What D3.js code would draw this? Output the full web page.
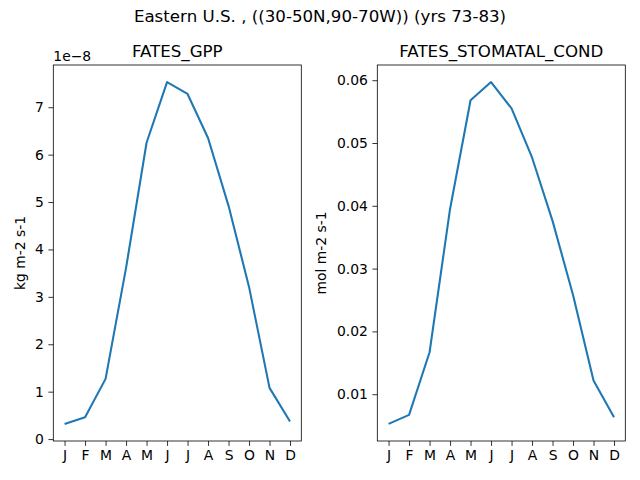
<!DOCTYPE html>
<html>
<head>
<meta charset="utf-8">
<script src="https://cdn.jsdelivr.net/npm/d3@7"></script>
<style>
body { margin: 0; background: #fff; }
svg text { font-family: "DejaVu Sans", sans-serif; fill: #000; }
</style>
</head>
<body>
<div id="chart"></div>
<script>
const width = 640, height = 480;

const months = ["J", "F", "M", "A", "M", "J", "J", "A", "S", "O", "N", "D"];
const gpp = [0.32, 0.46, 1.27, 3.61, 6.25, 7.53, 7.28, 6.35, 4.92, 3.21, 1.08, 0.37]; // x 1e-8
const stomatal = [0.00527, 0.00671, 0.01668, 0.0395, 0.0568, 0.0597, 0.0555, 0.0477, 0.0376, 0.0258, 0.0122, 0.00634];
const gppTicks = [0, 1, 2, 3, 4, 5, 6, 7];
const condTicks = [0.01, 0.02, 0.03, 0.04, 0.05, 0.06];

const svg = d3.select("#chart").append("svg")
    .attr("width", width).attr("height", height);

svg.append("text")
    .attr("x", 320).attr("y", 22)
    .attr("text-anchor", "middle")
    .style("font-size", "16.67px")
    .text("Eastern U.S. , ((30-50N,90-70W)) (yrs 73-83)");

function panel(opts) {
    const { left, right, top, bottom, values, ticks, fmt, title, ylabel, labelX, offsetText } = opts;

    const x = d3.scaleLinear().domain([-0.55, 11.55]).range([left, right]);
    const lo = d3.min(values), hi = d3.max(values), pad = (hi - lo) * 0.05;
    const y = d3.scaleLinear().domain([lo - pad, hi + pad]).range([bottom, top]);

    const g = svg.append("g");

    const xAxis = g.append("g")
        .attr("transform", `translate(0,${bottom})`)
        .call(d3.axisBottom(x).tickValues(d3.range(12)).tickFormat(i => months[i])
            .tickSize(4.9).tickPadding(4.5));
    const yAxis = g.append("g")
        .attr("transform", `translate(${left},0)`)
        .call(d3.axisLeft(y).tickValues(ticks).tickFormat(fmt).tickSize(4.9).tickPadding(4.5));

    [xAxis, yAxis].forEach(a => {
        a.select(".domain").remove();
        a.selectAll("line").attr("stroke", "#000").attr("stroke-width", 0.8);
        a.selectAll("text").style("font-size", "13.9px").attr("fill", "#000")
            .style("font-family", "DejaVu Sans, sans-serif");
    });

    g.append("path")
        .datum(values)
        .attr("fill", "none")
        .attr("stroke", "#1f77b4")
        .attr("stroke-width", 2.08)
        .attr("stroke-linejoin", "round")
        .attr("d", d3.line().x((d, i) => x(i)).y(d => y(d)));

    g.append("rect")
        .attr("x", left).attr("y", top)
        .attr("width", right - left).attr("height", bottom - top)
        .attr("fill", "none").attr("stroke", "#000").attr("stroke-width", 0.8);

    g.append("text")
        .attr("x", (left + right) / 2).attr("y", top - 8)
        .attr("text-anchor", "middle")
        .style("font-size", "16.67px")
        .text(title);

    g.append("text")
        .attr("transform", `translate(${labelX},${(top + bottom) / 2}) rotate(-90)`)
        .attr("text-anchor", "middle")
        .style("font-size", "13.9px")
        .text(ylabel);

    if (offsetText) {
        g.append("text")
            .attr("x", left).attr("y", top - 4)
            .style("font-size", "13.9px")
            .text(offsetText);
    }
}

panel({
    left: 53.3, right: 301.3, top: 65, bottom: 441,
    values: gpp, ticks: gppTicks, fmt: d3.format("d"),
    title: "FATES_GPP", ylabel: "kg m-2 s-1", labelX: 25, offsetText: "1e\u22128"
});

panel({
    left: 377.3, right: 625.3, top: 65, bottom: 441,
    values: stomatal, ticks: condTicks, fmt: d3.format(".2f"),
    title: "FATES_STOMATAL_COND", ylabel: "mol m-2 s-1", labelX: 326
});
</script>
</body>
</html>
